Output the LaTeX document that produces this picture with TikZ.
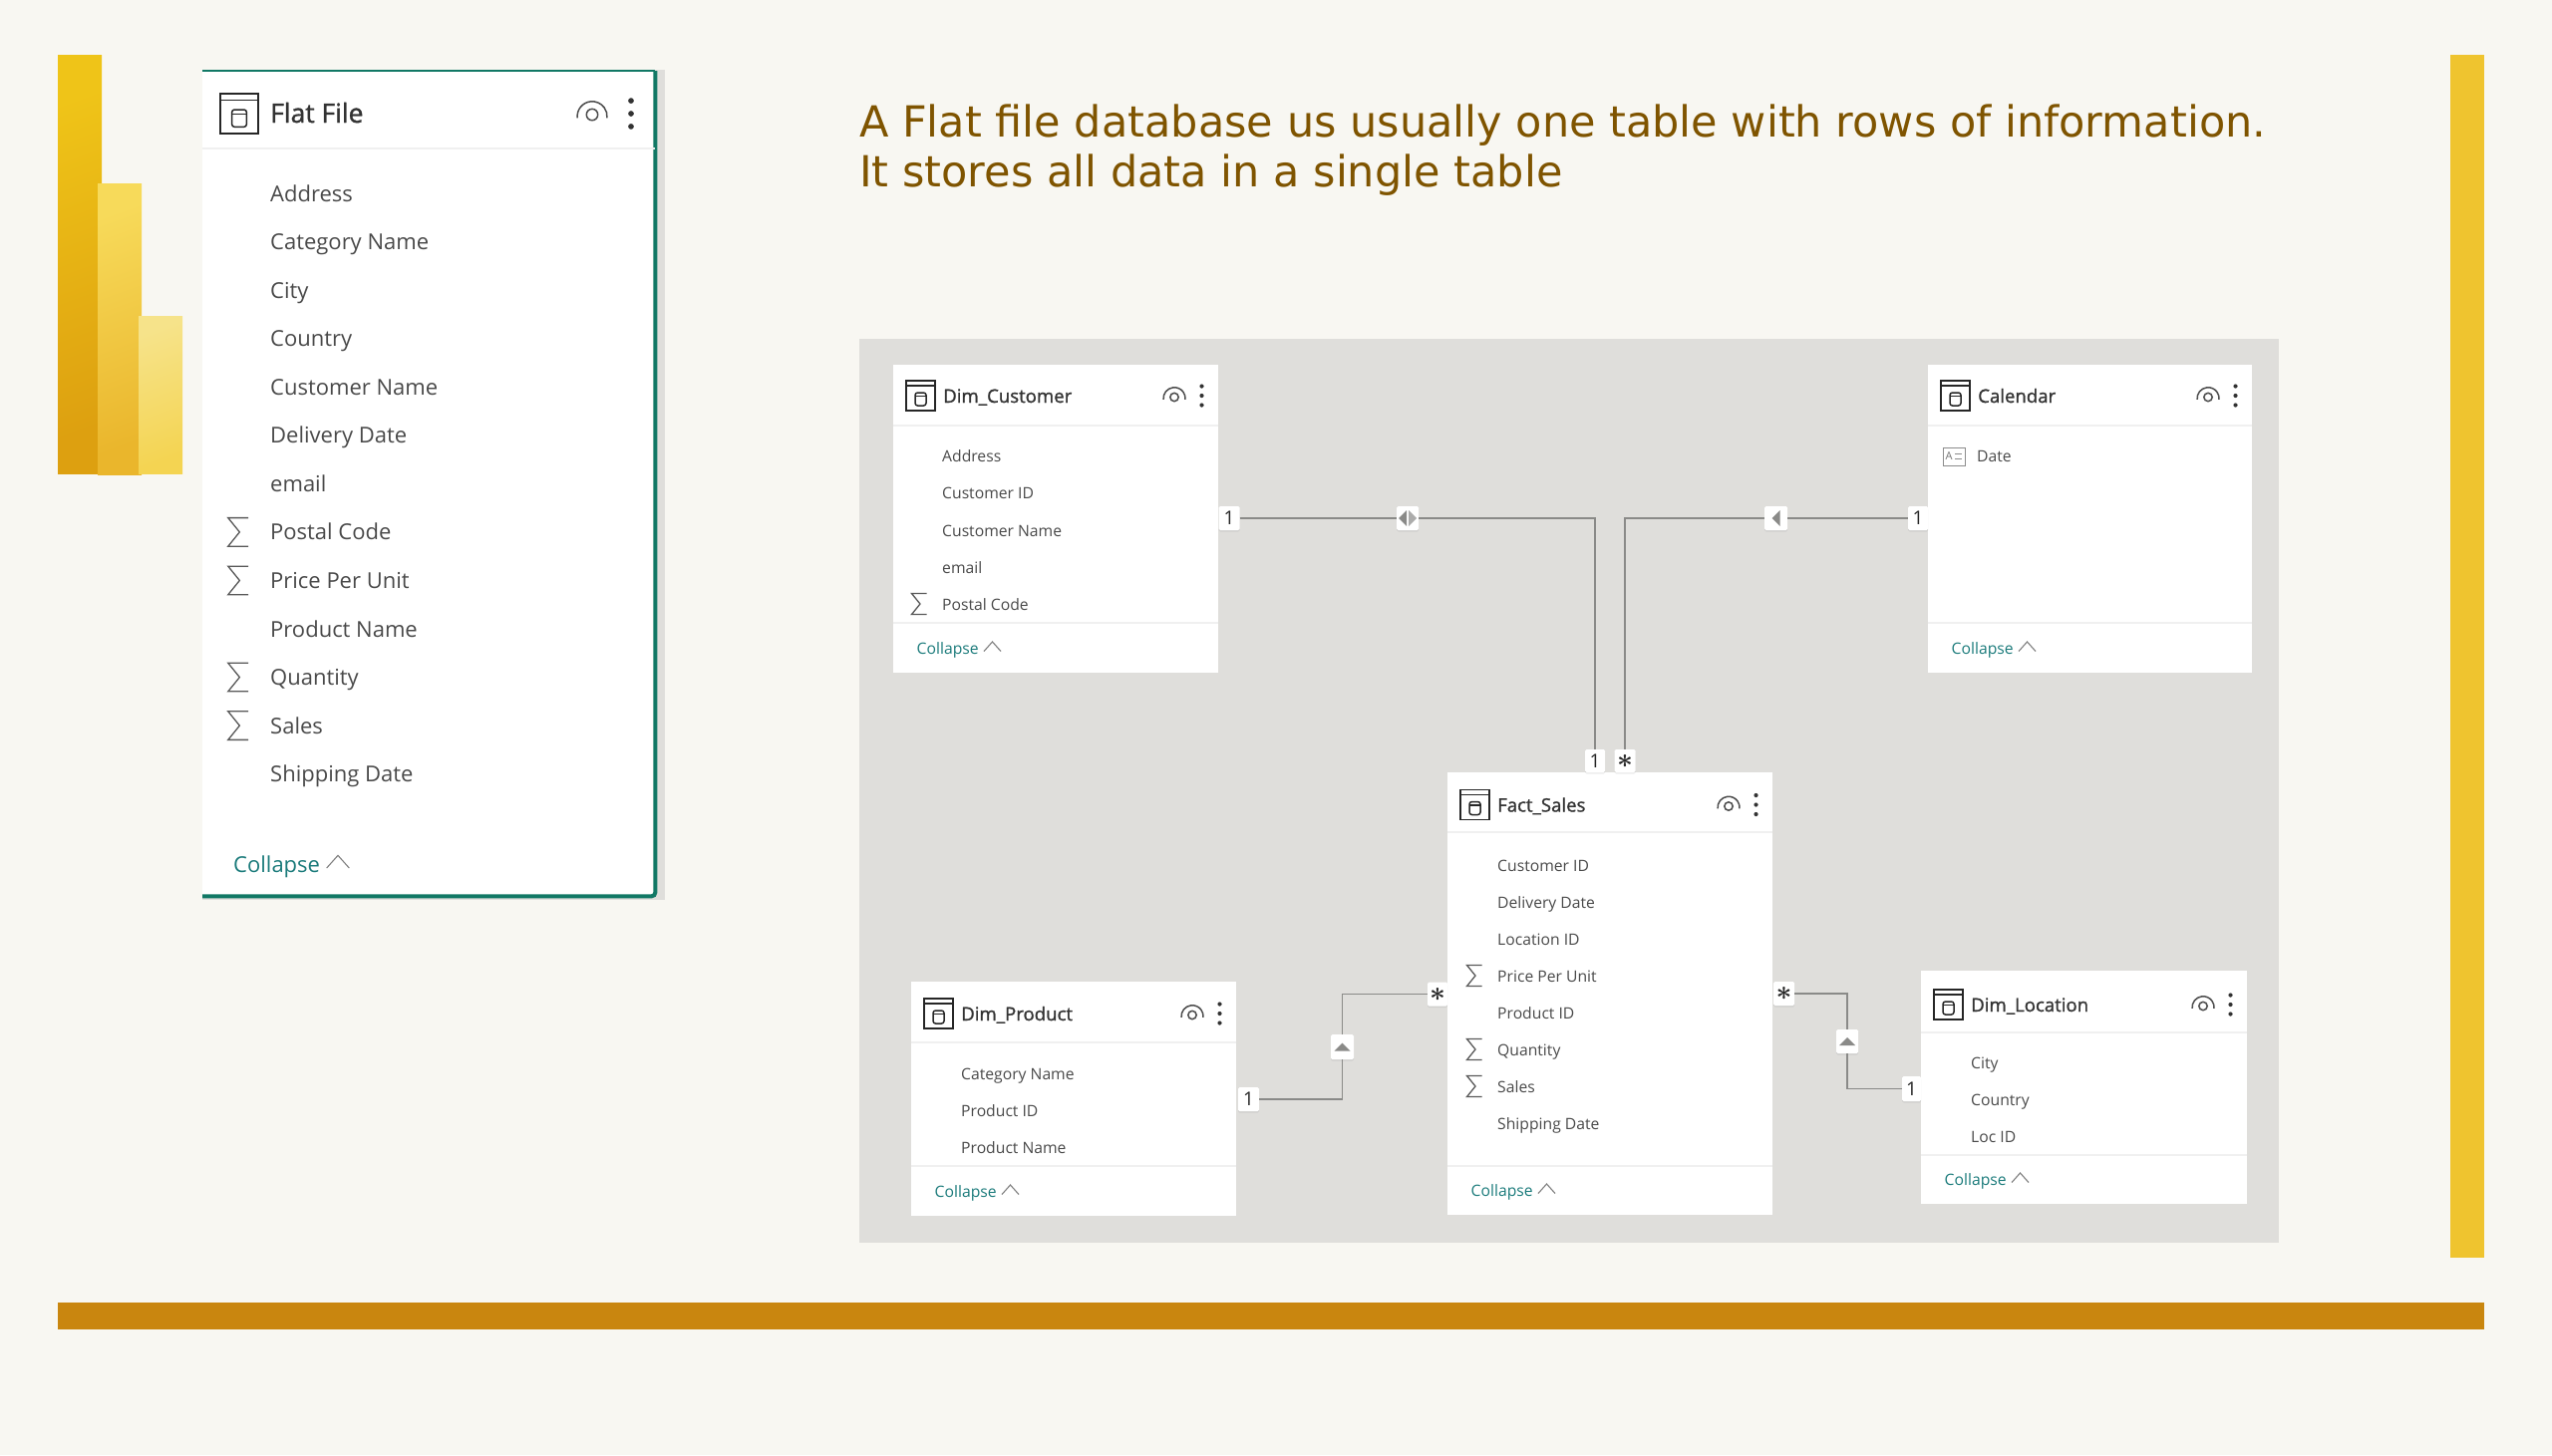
\documentclass[tikz,border=0pt]{standalone}
\usepackage{xcolor}
\usepackage{graphicx}
\usepackage{fontspec}
\setmainfont{Open Sans}
\newfontfamily\headfont{DejaVu Sans}
\newfontfamily\titlefont[FakeBold=1.2]{Open Sans}
\usepackage{tikz}
\usetikzlibrary{shadows}
\definecolor{pagebg}{HTML}{F8F7F2}
\definecolor{boardgray}{HTML}{DFDEDB}
\definecolor{headbrown}{HTML}{7F5400}
\definecolor{sidegold}{HTML}{EFC42F}
\definecolor{footgold}{HTML}{C9860F}
\definecolor{rimteal}{HTML}{117865}
\definecolor{foldteal}{HTML}{1B7B7B}
\definecolor{fieldtext}{HTML}{4A4A4A}
\definecolor{relgray}{HTML}{8A8A88}
\newcommand{\manymark}{\scalebox{1.6}{\boldmath$*$}}

\begin{document}
\begin{tikzpicture}[
    x=1pt,y=-1pt,
    bigrow/.style={anchor=base west,inner sep=0pt,text=fieldtext,font=\fontsize{22}{22}\selectfont},
    smallrow/.style={anchor=base west,inner sep=0pt,text=fieldtext,font=\fontsize{15.7}{16}\selectfont},
    cardtitle/.style={anchor=base west,inner sep=0pt,text=black!80,font=\titlefont\fontsize{18.6}{19}\selectfont},
    foldtext/.style={anchor=base west,inner sep=0pt,text=foldteal,font=\fontsize{15.7}{16}\selectfont},
    whitecard/.style={anchor=north west,fill=white,inner sep=0pt},
    cardrule/.style={draw=black!6,line width=1.2pt},
    relline/.style={draw=relgray,line width=1.5pt},
    badge/.style={fill=white,rounded corners=1.5pt,inner sep=0pt,text=black!85,
      minimum width=21pt,minimum height=24pt,font=\fontsize{19}{19}\selectfont,
      drop shadow={shadow xshift=0pt,shadow yshift=-1.5pt,opacity=.15}},
    pics/tableicon/.style={code={
        \draw[black!85,line width=1.9pt] (-14.5,-15) rectangle (14.5,15);
        \draw[black!85,line width=1.5pt] (-14.5,-10) -- (14.5,-10);
        \draw[black!85,line width=1.5pt,rounded corners=2.5pt] (-5.5,-3) rectangle (5.5,10);
        \draw[black!85,line width=1.2pt] (-5.5,0.5) -- (5.5,0.5);
      }},
    pics/eyeicon/.style={code={
        \draw[black!70,line width=1.5pt] (-10.9,3.9) arc[start angle=186,end angle=-6,radius=11pt];
        \draw[black!70,line width=1.5pt] (0,1.5) circle[radius=4.2pt];
      }},
    pics/dotsicon/.style={code={
        \foreach \k in {-9.5,0,9.5} \fill[black!80] (0,\k) circle[radius=2.1pt];
      }},
    pics/sigmark/.style={code={
        \draw[black!65,line width=1.3pt] (7.5,-10.5) -- (-7.5,-10.5) -- (1,0) -- (-7.5,10.5) -- (7.5,10.5);
      }},
    pics/caretmark/.style={code={
        \draw[black!50,line width=1.1pt] (-8.5,4.5) -- (0,-5) -- (8.5,4.5);
      }},
    pics/reltip/.style={code={
        \fill[relgray] (4,-8) -- (-4,0) -- (4,8) -- cycle;
      }}
  ]
  \useasboundingbox (0,0) rectangle (2560,1460);
  \fill[pagebg] (0,0) rectangle (2560,1460);

  % logo bars
  \shade[top color={rgb,255:red,239;green,196;blue,24},bottom color={rgb,255:red,221;green,160;blue,16},shading angle=20] (58,55) rectangle (102,475);
  \shade[top color={rgb,255:red,247;green,218;blue,90},bottom color={rgb,255:red,234;green,182;blue,44},shading angle=20] (98,184) rectangle (142,476);
  \shade[top color={rgb,255:red,246;green,227;blue,138},bottom color={rgb,255:red,244;green,212;blue,82},shading angle=20] (139,317) rectangle (183,475);

  % frame bars
  \fill[sidegold] (2458,55) rectangle (2492,1262);
  \fill[footgold] (58,1307) rectangle (2492,1334);

  % heading
  \node[anchor=north west,inner sep=0pt,align=left,text=headbrown,
    font=\headfont\fontsize{43}{50}\selectfont] (heading) at (862,105)
    {A Flat file database us usually one table with rows of information.\\It stores all data in a single table};

  % flat file panel
  \fill[boardgray] (203,70) rectangle (667,903);
  \node[whitecard,minimum width=454pt,minimum height=828pt] (flatCard) at (203,71) {};
  \draw[rimteal,line width=1.5pt] (flatCard.north west) -- (flatCard.north east);
  \draw[rimteal,line width=4pt,rounded corners=4pt] (flatCard.north east) -- (flatCard.south east) -- (flatCard.south west);
  \draw[cardrule] (flatCard.west |- 0,149) -- (flatCard.east |- 0,149);
  \pic[scale=1.33] at (240,114) {tableicon};
  \node[cardtitle,font=\titlefont\fontsize{26.5}{27}\selectfont] (flatTitle) at (271,123) {Flat File};
  \pic[scale=1.36] at (594,113) {eyeicon};
  \pic[scale=1.36] at (633,114) {dotsicon};
  \foreach \txt [count=\n] in {Address,Category Name,City,Country,Customer Name,Delivery Date,email,
      Postal Code,Price Per Unit,Product Name,Quantity,Sales,Shipping Date}
    \node[bigrow] (flat\n) at (271,{153.5+48.55*\n}) {\txt};
  \foreach \n in {8,9,11,12}
    \pic[scale=1.36] at (239,{145.5+48.55*\n}) {sigmark};
  \node[foldtext,font=\fontsize{22}{22}\selectfont] (flatFold) at (234,875) {Collapse};
  \pic[scale=1.33] at (339,865) {caretmark};

  % model board
  \fill[boardgray] (862,340) rectangle (2286,1247);
  \foreach \nm/\lx/\ty/\rx/\by/\hy/\fy/\ho/\ttl in {
      cust/896/366/1222/675/427/625/31/Dim\_Customer,
      cal/1934/366/2259/675/427/625/31/Calendar,
      fact/1452/775/1778/1219/835/1170/32.5/Fact\_Sales,
      prod/914/985/1240/1220/1046/1170/32/Dim\_Product,
      loc/1927/974/2254/1208/1036/1159/34/Dim\_Location}
  {
    \node[whitecard,minimum width={(\rx-\lx)*1pt},minimum height={(\by-\ty)*1pt}] (\nm Card) at (\lx,\ty) {};
    \draw[cardrule] (\lx,\hy) -- (\rx,\hy);
    \draw[cardrule] (\lx,\fy) -- (\rx,\fy);
    \pic at ({\lx+27.5},{\ty+\ho}) {tableicon};
    \node[cardtitle] (\nm Title) at ({\lx+50},{\ty+\ho+7}) {\ttl};
    \pic at ({\rx-44},{\ty+\ho}) {eyeicon};
    \pic at ({\rx-16.5},{\ty+\ho}) {dotsicon};
    \node[foldtext] (\nm Fold) at ({\lx+23.5},{\by-18.5}) {Collapse};
    \pic at ({\lx+99.5},{\by-26}) {caretmark};
  }

  % fields
  \foreach \txt [count=\n] in {Address,Customer ID,Customer Name,email,Postal Code}
    \node[smallrow] (cust\n) at (945,{426.5+37.2*\n}) {\txt};
  \pic at (922,606) {sigmark};
  \node[smallrow] (cal1) at (1983,463.5) {Date};
  \draw[black!45,line width=1pt] (1949,449) rectangle (1971,467);
  \node[inner sep=0pt,text=black!55,font=\fontsize{11}{11}\selectfont] (calGlyph) at (1955,458) {A};
  \draw[black!45,line width=1pt] (1961,455.5) -- (1968,455.5) (1961,460.5) -- (1968,460.5);
  \foreach \txt [count=\n] in {Customer ID,Delivery Date,Location ID,Price Per Unit,Product ID,Quantity,Sales,Shipping Date}
    \node[smallrow] (fact\n) at (1502,{837+37*\n}) {\txt};
  \foreach \n in {4,6,7}
    \pic at (1479,{831+37*\n}) {sigmark};
  \foreach \txt [count=\n] in {Category Name,Product ID,Product Name}
    \node[smallrow] (prod\n) at (964,{1046.5+37*\n}) {\txt};
  \foreach \txt [count=\n] in {City,Country,Loc ID}
    \node[smallrow] (loc\n) at (1977,{1035.5+37*\n}) {\txt};

  % relationship badges
  \node[badge] (custOne) at (1233,520) {1};
  \node[badge,minimum width=22pt] (custDir) at (1412,520) {};
  \node[badge,minimum width=20pt] (calOne) at (1924,520) {1};
  \node[badge,minimum width=23pt] (calDir) at (1781.5,520) {};
  \node[badge,minimum width=20pt,minimum height=23pt] (factOne) at (1600,763.5) {1};
  \node[badge,minimum height=23pt] (factMany) at (1630,763.5) {\manymark};
  \node[badge,minimum width=20pt] (factLeft) at (1442,997.5) {\manymark};
  \node[badge,minimum width=23pt,minimum height=25pt] (prodDir) at (1346.5,1050.5) {};
  \node[badge] (prodOne) at (1252.5,1103) {1};
  \node[badge] (factRight) at (1789.5,997) {\manymark};
  \node[badge,minimum width=22pt] (locDir) at (1853,1045) {};
  \node[badge,minimum width=19pt,minimum height=25pt] (locOne) at (1917.5,1092.5) {1};

  % relationship lines
  \draw[relline] (custOne) -- (custDir);
  \draw[relline] (custDir) -| (factOne);
  \draw[relline] (calOne) -- (calDir);
  \draw[relline] (calDir) -| (factMany);
  \draw[relline] (factLeft) -| (prodDir);
  \draw[relline] (prodDir) |- (prodOne);
  \draw[relline] (factRight) -| (locDir);
  \draw[relline] (locDir) |- (locOne);

  % direction marks
  \pic at ([xshift=-5pt]custDir.center) {reltip};
  \pic[rotate=180,opacity=.7] at ([xshift=5pt]custDir.center) {reltip};
  \pic at (calDir.center) {reltip};
  \pic[rotate=-90] at (prodDir.center) {reltip};
  \pic[rotate=-90] at (locDir.center) {reltip};
\end{tikzpicture}
\end{document}
